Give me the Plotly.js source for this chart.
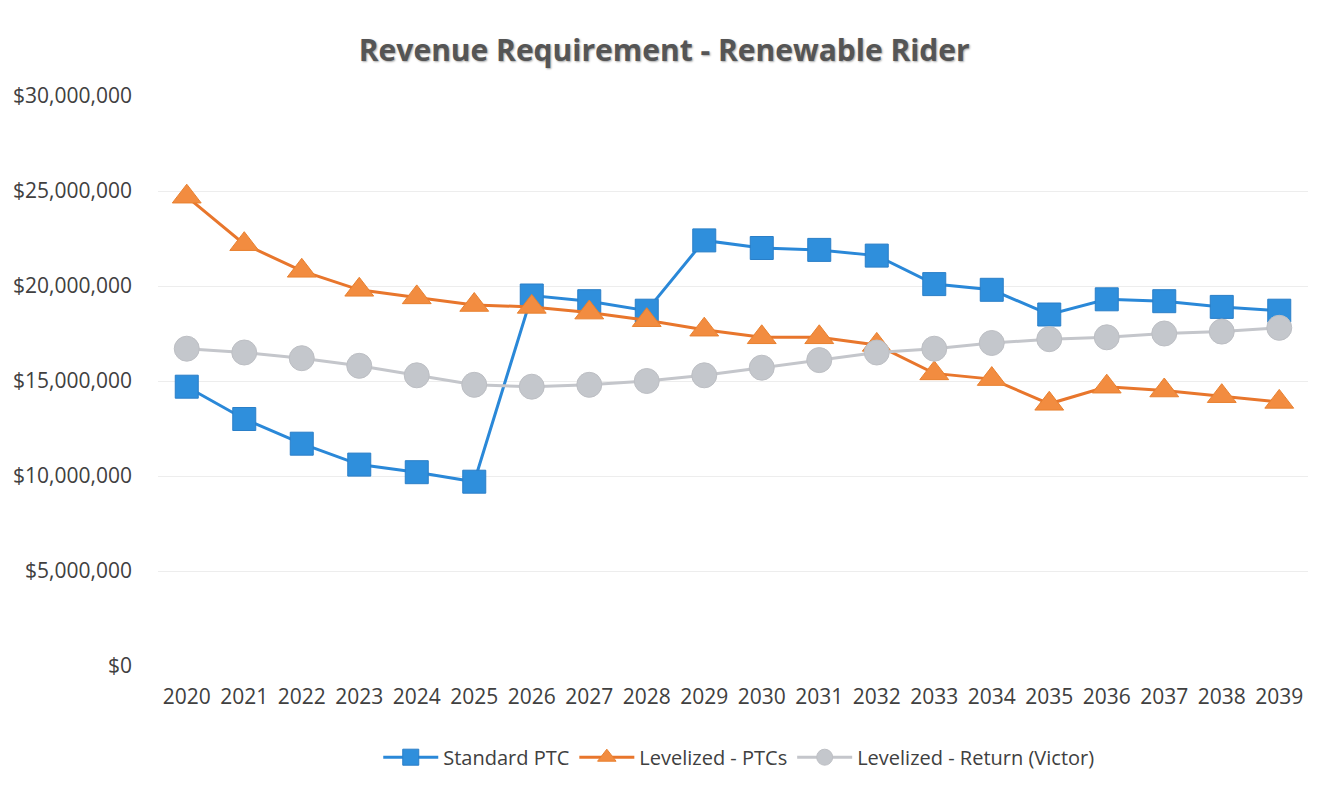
<!DOCTYPE html>
<html>
<head>
<meta charset="utf-8">
<script src="https://cdn.plot.ly/plotly-3.0.1.min.js"></script>
<style>html,body{margin:0;padding:0;background:#fff;}#chart{width:1318px;height:803px;}</style>
</head>
<body>
<div id="chart"></div>
<script>
const years = ["2020","2021","2022","2023","2024","2025","2026","2027","2028","2029","2030","2031","2032","2033","2034","2035","2036","2037","2038","2039"];
const standardPTC = [14.7,13.0,11.7,10.6,10.2,9.7,19.5,19.2,18.7,22.4,22.0,21.9,21.6,20.1,19.8,18.5,19.3,19.2,18.9,18.7].map(v=>v*1e6);
const levelizedPTCs = [24.7,22.2,20.8,19.8,19.4,19.0,18.9,18.6,18.2,17.7,17.3,17.3,16.9,15.4,15.1,13.8,14.7,14.5,14.2,13.9].map(v=>v*1e6);
const levelizedReturn = [16.7,16.5,16.2,15.8,15.3,14.8,14.7,14.8,15.0,15.3,15.7,16.1,16.5,16.7,17.0,17.2,17.3,17.5,17.6,17.8].map(v=>v*1e6);
const yTicks = [0,5e6,10e6,15e6,20e6,25e6,30e6];
const yTickText = ["$0","$5,000,000","$10,000,000","$15,000,000","$20,000,000","$25,000,000","$30,000,000"];

const traces = [
  {x: years, y: standardPTC, name: "Standard PTC", type: "scatter", mode: "lines+markers",
   line: {color: "#2a88d8", width: 3},
   marker: {symbol: "square", size: 23, color: "#2f8fdc", line: {color: "#2a7fc8", width: 1}}},
  {x: years, y: levelizedPTCs, name: "Levelized - PTCs", type: "scatter", mode: "lines+markers",
   line: {color: "#e8762c", width: 3},
   marker: {symbol: "triangle-up", size: 25, color: "#f28c40", line: {color: "#e8802f", width: 1}}},
  {x: years, y: levelizedReturn, name: "Levelized - Return (Victor)", type: "scatter", mode: "lines+markers",
   line: {color: "#c4c6cb", width: 3},
   marker: {symbol: "circle", size: 25, color: "#c4c7cc", line: {color: "#bdbfc4", width: 1}}}
];

const layout = {
  width: 1318, height: 803,
  margin: {l: 158, r: 10, t: 96, b: 137},
  paper_bgcolor: "#fff", plot_bgcolor: "#fff",
  font: {family: "Open Sans, Liberation Sans, sans-serif", color: "#404040", size: 20},
  title: {text: "<b>Revenue Requirement - Renewable Rider</b>", x: 0.504, xanchor: "center", y: 0.937, yanchor: "middle",
          font: {family: "Open Sans, sans-serif", size: 30, color: "#555555", shadow: "1px 1px 2px rgba(0,0,0,0.35)"}},
  xaxis: {type: "category", range: [-0.5, 19.5], showgrid: false, zeroline: false, showline: false,
          ticks: "", ticklabelstandoff: 16, tickfont: {size: 21, color: "#404040"}, fixedrange: true},
  yaxis: {range: [0, 30e6], tickvals: yTicks, ticktext: yTickText, showgrid: true, gridcolor: "#ededed", gridwidth: 1,
          zeroline: false, showline: false, ticks: "", ticklabelstandoff: 25, tickfont: {size: 21, color: "#404040"},
          automargin: false, fixedrange: true},
  legend: {orientation: "h", x: 0.505, xanchor: "center", y: -0.16, yanchor: "middle", font: {size: 20, color: "#404040"},
           itemwidth: 55, traceorder: "normal"},
  showlegend: true
};

Plotly.newPlot("chart", traces, layout, {displayModeBar: false, staticPlot: true});
</script>
</body>
</html>
